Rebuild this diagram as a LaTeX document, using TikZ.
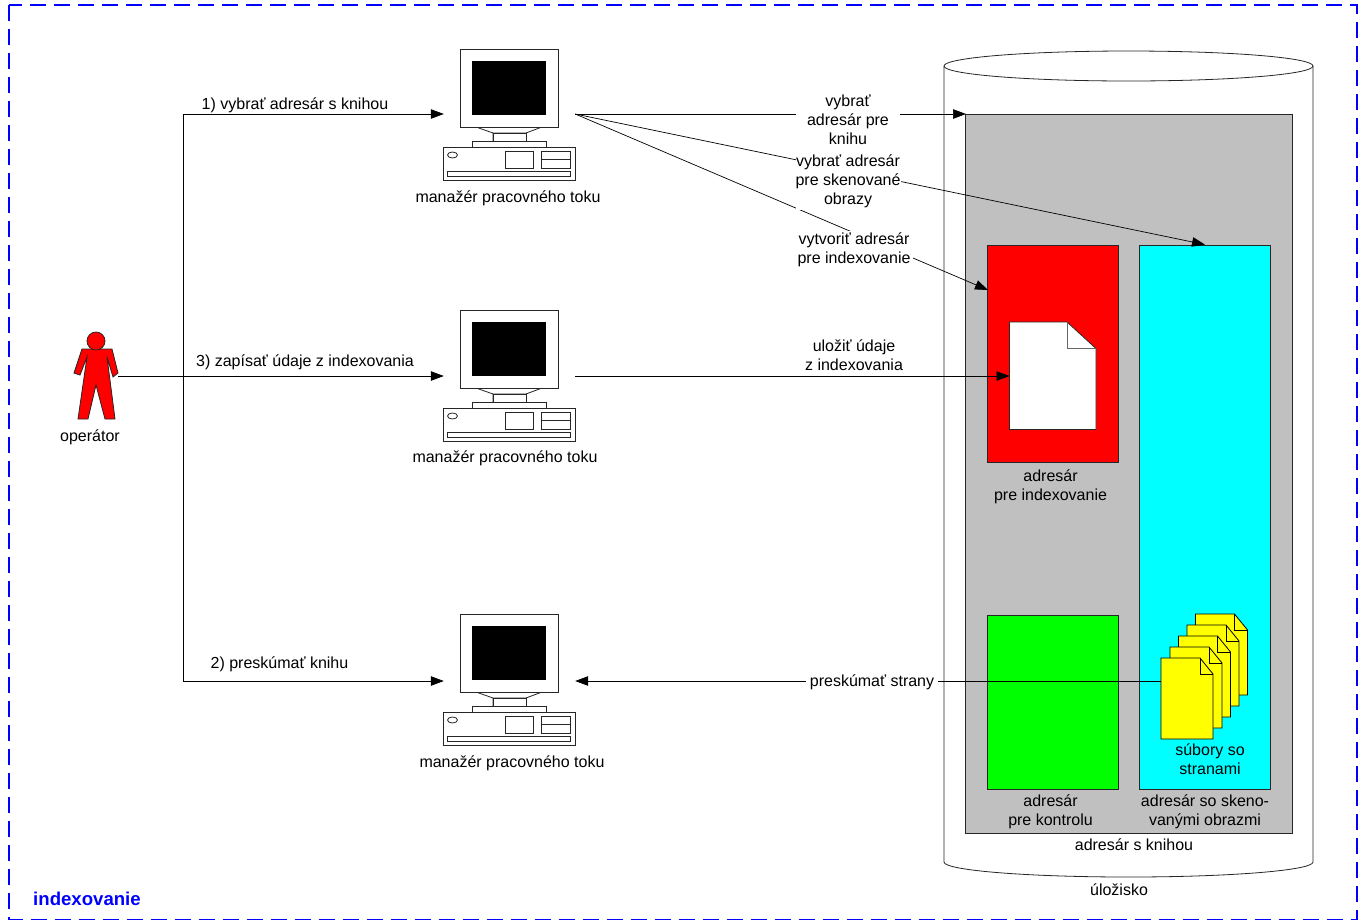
\documentclass[tikz,border=0pt]{standalone}
\usepackage{fontspec}
\setmainfont{Liberation Sans}
\usetikzlibrary{arrows.meta}
\definecolor{grayfill}{RGB}{192,192,192}
\definecolor{frameblue}{RGB}{0,0,255}
\definecolor{aqua}{RGB}{0,255,255}
\definecolor{puregreen}{RGB}{0,255,0}
\definecolor{pureyellow}{RGB}{255,255,0}
\newcommand{\pcshape}[1]{%
  \begin{scope}[yshift=-#1pt,line width=.8pt,draw=black!85]
    \draw (476,127) -- (493,133) -- (493,141) (542,127) -- (526,133) -- (526,141) (493,133) -- (526,133);
    \draw[fill=white] (472,141) rectangle (546,147);
    \draw[fill=white] (493,133) rectangle (526,141);
    \draw[fill=white] (460,49) rectangle (558,127);
    \fill[black] (472,61) rectangle (546,115);
    \draw[fill=white] (443.5,147) rectangle (575,180.5);
    \draw (452.5,155) ellipse[x radius=5pt,y radius=3pt];
    \draw (505,151) rectangle (533,168);
    \draw (541,151) rectangle (570,168);
    \draw (541,159) -- (570,159);
    \draw (447,171) rectangle (570,176);
  \end{scope}}
\newcommand{\yellowdoc}[2]{%
  \draw[fill=pureyellow,line width=.8pt] (1161+#1,658+#2) -- (1200+#1,658+#2) -- (1213+#1,674+#2) -- (1213+#1,739+#2) -- (1161+#1,739+#2) -- cycle;
  \draw[line width=.8pt] (1200+#1,658+#2) -- (1200+#1,674+#2) -- (1213+#1,674+#2);}
\tikzset{
  x=1pt,y=-1pt,
  every node/.style={font=\fontsize{16}{19}\selectfont,align=center,inner sep=0pt},
  wire/.style={line width=.7pt,black},
  tip/.style={-{Triangle[length=13pt,width=9.5pt]}},
  box/.style={draw=black!85,line width=.8pt},
  pcspot/.style={minimum width=131pt,minimum height=20pt},
  gapped/.style={fill=white,inner sep=0pt}
}
\begin{document}
\begin{tikzpicture}
\useasboundingbox (0,0) rectangle (1364,922);
\fill[white] (0,0) rectangle (1364,922);
\draw[frameblue,line width=1.5pt,dash pattern=on 16pt off 8pt] (9,5) rectangle (1357,919.5);
% storage cylinder
\draw[box,fill=white] (944,66) -- (944,862) .. controls (944,870.3) and (1026.5,877) .. (1128.5,877) .. controls (1230.5,877) and (1313,870.3) .. (1313,862) -- (1313,66);
\draw[box,fill=white] (944,66) .. controls (944,57.7) and (1026.5,51) .. (1128.5,51) .. controls (1230.5,51) and (1313,57.7) .. (1313,66) .. controls (1313,74.3) and (1230.5,81) .. (1128.5,81) .. controls (1026.5,81) and (944,74.3) .. (944,66) -- cycle;
% directories
\node[box,fill=grayfill,minimum width=326.5pt,minimum height=719pt] (book) at (1128.75,473.5) {};
\node[box,fill=red,minimum width=130.5pt,minimum height=217pt] (indexdir) at (1052.75,353.5) {};
\node[box,fill=aqua,minimum width=130.5pt,minimum height=544pt] (scandir) at (1205,517) {};
\node[box,fill=puregreen,minimum width=130.5pt,minimum height=174pt] (checkdir) at (1052.75,702) {};
% index file
\draw[box,fill=white] (1009.5,322) -- (1067,322) -- (1096,348.5) -- (1096,429.5) -- (1009.5,429.5) -- cycle;
\draw[box,draw=black!60] (1067,322) -- (1067,348.5) -- (1096,348.5);
\coordinate (indexfile) at (1009.5,376);
% page files
\yellowdoc{34.5}{-44}
\yellowdoc{26}{-33}
\yellowdoc{17.5}{-22}
\yellowdoc{9}{-11}
\yellowdoc{0}{0}
\coordinate (pages) at (1161,681);
% operator
\draw[box,fill=red] (82,349) -- (112,349) -- (118,373) -- (113,377) -- (107,357) -- (115,419) -- (105,419) -- (96,385) -- (88,419) -- (78,419) -- (87,357) -- (80,375) -- (74,373) -- cycle;
\draw[box,fill=red] (96,341) circle[radius=9pt];
\coordinate (op) at (118,376);
\coordinate (branch) at (183,376);
% workstations
\pcshape{0}
\pcshape{261}
\pcshape{565}
\node[pcspot] (pcone) at (509.5,114) {};
\node[pcspot] (pctwo) at (509.5,376) {};
\node[pcspot] (pcthree) at (509.5,681) {};
\coordinate (redin) at (988,290);
\coordinate (bookin) at (966,114);
% connectors
\draw[wire,tip] (op) -- (pctwo.west);
\draw[wire,tip] (branch) -- (183,114) -- (pcone.west);
\draw[wire,tip] (branch) -- (183,681) -- (pcthree.west);
\draw[wire,tip] (pcone.east) -- (bookin);
\draw[wire,tip] (pcone.east) -- (scandir.north);
\draw[wire,tip] (pcone.east) -- (redin);
\draw[wire,tip] (pctwo.east) -- (indexfile);
\draw[wire,tip] (pages) -- (pcthree.east);
% labels on connectors
\node[gapped,minimum width=104pt,minimum height=58pt] (lknihu) at (848,120) {vybrať\\adresár pre\\knihu};
\node[gapped,minimum width=105pt,minimum height=57pt] (lscan) at (848,181) {vybrať adresár\\pre skenované\\obrazy};
\node[gapped,minimum width=118pt,minimum height=39pt] (lnew) at (854,250) {vytvoriť adresár\\pre indexovanie};
\node[gapped,minimum width=132pt,minimum height=20pt] (lreview) at (872,682.5) {preskúmať strany};
\node (lsave) at (854,355.5) {uložiť údaje\\z indexovania};
\node (lone) at (295,105) {1) vybrať adresár s knihou};
\node (lthree) at (305,362) {3) zapísať údaje z indexovania};
\node (ltwo) at (279.5,664) {2) preskúmať knihu};
% captions
\node (copone) at (90,437) {operátor};
\node (cpcone) at (508,198) {manažér pracovného toku};
\node (cpctwo) at (505,458) {manažér pracovného toku};
\node (cpcthree) at (512,763) {manažér pracovného toku};
\node (cindex) at (1050.5,486.5) {adresár\\pre indexovanie};
\node (ccheck) at (1050.5,811.5) {adresár\\pre kontrolu};
\node[fill=aqua,minimum width=100pt,minimum height=39pt] (cfiles) at (1210,759.5) {súbory so\\stranami};
\node (cscan) at (1205,811.5) {adresár so skeno-\\vanými obrazmi};
\node (cbook) at (1134,845) {adresár s knihou};
\node (cstore) at (1119,889.5) {úložisko};
\node[font=\fontsize{18.6}{21}\selectfont\bfseries,text=frameblue] (ctitle) at (87,899) {indexovanie};
\end{tikzpicture}
\end{document}
